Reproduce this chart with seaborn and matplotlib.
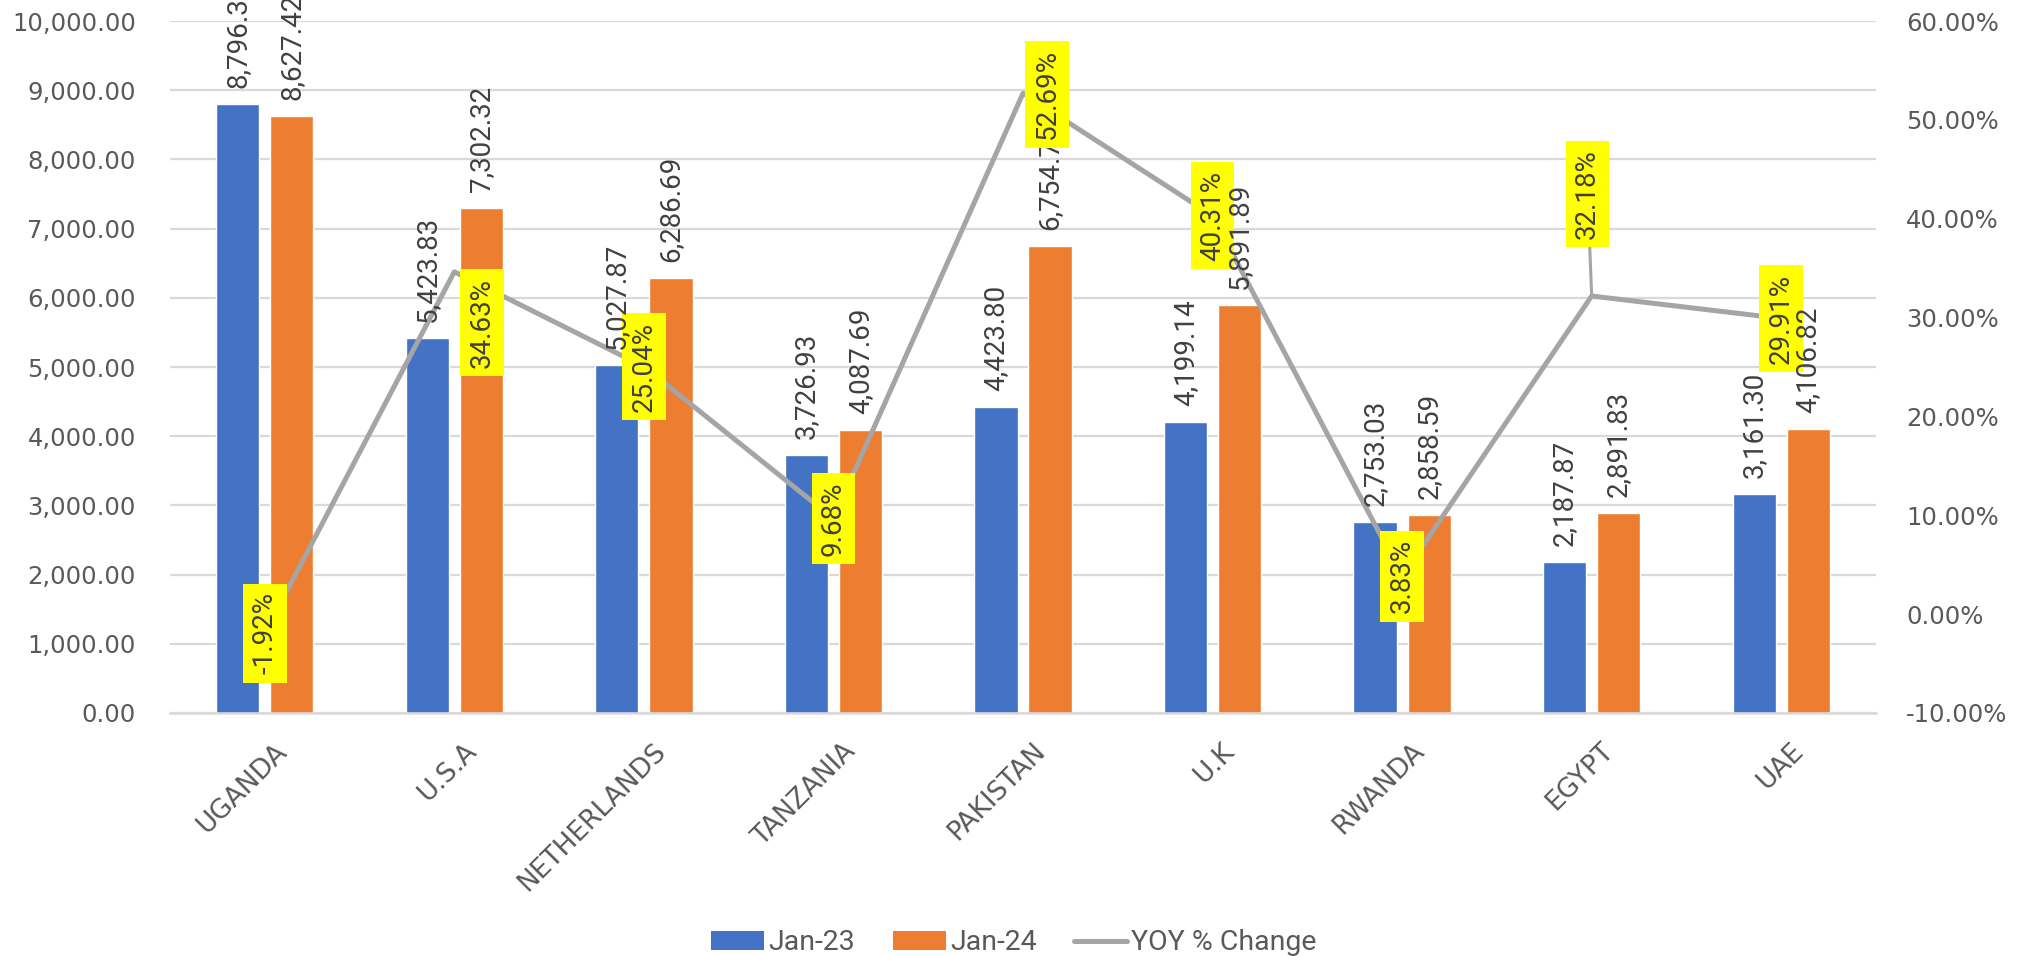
import numpy as np
import pandas as pd
import matplotlib
matplotlib.use("Agg")
import matplotlib.pyplot as plt
import matplotlib.transforms as mtransforms
from matplotlib.patches import Patch
from matplotlib.lines import Line2D
from matplotlib.ticker import FuncFormatter
import seaborn as sns

# ---- data -------------------------------------------------------------
countries = ["UGANDA", "U.S.A", "NETHERLANDS", "TANZANIA", "PAKISTAN",
             "U.K", "RWANDA", "EGYPT", "UAE"]
jan_23 = [8796.33, 5423.83, 5027.87, 3726.93, 4423.80, 4199.14, 2753.03, 2187.87, 3161.30]
jan_24 = [8627.42, 7302.32, 6286.69, 4087.69, 6754.70, 5891.89, 2858.59, 2891.83, 4106.82]
yoy_pct = [-1.92, 34.63, 25.04, 9.68, 52.69, 40.31, 3.83, 32.18, 29.91]
series_names = ["Jan-23", "Jan-24", "YOY % Change"]
left_ticks = [0, 1000, 2000, 3000, 4000, 5000, 6000, 7000, 8000, 9000, 10000]
right_ticks = [-10, 0, 10, 20, 30, 40, 50, 60]

# ---- layout of the % labels (pixel offsets from their point) -----------
pct_label_offsets = [(0, 0), (28, -51), (0, 0), (0, 0), (24, -1),
                     (0, 0), (0, 0), (-4, 102), (0, 0)]
pct_label_leader = [False, False, False, False, False, False, False, True, False]
# value labels that sit underneath a yellow % box
value_label_below_box = [False, False, False, False, True, False, False, False, False]

BLUE = "#4472C4"
ORANGE = "#ED7D31"
GRAY = "#A5A5A5"
GRID = "#D9D9D9"
AXIS_TEXT = "#595959"
LABEL_TEXT = "#404040"
YELLOW = "#FFFF00"

sns.set_theme(style="white")
plt.rcParams["font.family"] = ["DejaVu Sans"]

W, H, DPI = 2020, 956, 100
fig = plt.figure(figsize=(W / DPI, H / DPI), dpi=DPI)
ax = fig.add_axes([170 / W, 1 - 713 / H, (1876 - 170) / W, (713 - 21) / H])

df = pd.DataFrame({
    "country": countries * 2,
    "value": jan_23 + jan_24,
    "period": [series_names[0]] * len(countries) + [series_names[1]] * len(countries),
})

sns.barplot(data=df, x="country", y="value", hue="period", order=countries,
            hue_order=series_names[:2], palette=[BLUE, ORANGE], saturation=1,
            width=0.57, gap=0.2, errorbar=None, legend=False, ax=ax, zorder=2)

ax.set_xlim(-0.5, len(countries) - 0.5)
ax.set_ylim(left_ticks[0], left_ticks[-1])
ax.set_yticks(left_ticks)
ax.yaxis.set_major_formatter(FuncFormatter(lambda v, p: f"{v:,.2f}"))
ax.yaxis.grid(True, color=GRID, lw=1.6)
ax.xaxis.grid(False)
ax.set_axisbelow(True)
for side in ["top", "right", "left"]:
    ax.spines[side].set_visible(False)
ax.spines["bottom"].set_color(GRID)
ax.spines["bottom"].set_linewidth(1.8)
ax.set_xlabel("")
ax.set_ylabel("")
ax.tick_params(axis="y", length=0, pad=24.5, labelsize=17.5, labelcolor=AXIS_TEXT)
ax.tick_params(axis="x", length=0, pad=18, labelsize=19, labelcolor=AXIS_TEXT)
ax.set_xticks(range(len(countries)))
ax.set_xticklabels(countries, rotation=45, ha="right", rotation_mode="anchor")
shift = mtransforms.ScaledTranslation(9 / DPI, 0, fig.dpi_scale_trans)
for lab in ax.get_xticklabels():
    lab.set_transform(lab.get_transform() + shift)

# ---- YOY line on the secondary axis -----------------------------------
ax2 = ax.twinx()
positions = np.arange(len(countries))
sns.lineplot(x=positions, y=yoy_pct, color=GRAY, lw=3.6, sort=False, ax=ax2,
             zorder=2)
ax2.set_xlim(-0.5, len(countries) - 0.5)
ax2.set_ylim(right_ticks[0], right_ticks[-1])
ax2.set_yticks(right_ticks)
ax2.yaxis.set_major_formatter(FuncFormatter(lambda v, p: f"{v:.2f}%"))
ax2.grid(False)
for side in ["top", "right", "left", "bottom"]:
    ax2.spines[side].set_visible(False)
ax2.set_ylabel("")
ax2.tick_params(axis="y", length=0, pad=21.6, labelsize=17.5, labelcolor=AXIS_TEXT)

# percentage labels in yellow boxes
for i, v in enumerate(yoy_pct):
    dx, dy = pct_label_offsets[i]
    arrow = None
    if pct_label_leader[i]:
        arrow = dict(arrowstyle="-", color=GRAY, lw=2.2, shrinkA=0, shrinkB=0)
    ax2.annotate(f"{v:.2f}%", xy=(i, v), xytext=(dx, dy),
                 textcoords="offset pixels", rotation=90, ha="center", va="center",
                 fontsize=20, family=["Roboto", "DejaVu Sans"], color=LABEL_TEXT,
                 bbox=dict(boxstyle="square,pad=0.3", fc=YELLOW, ec="none"),
                 arrowprops=arrow, zorder=3)

# value labels above each bar
for container, values in zip(ax.containers, [jan_23, jan_24]):
    for i, (bar, v) in enumerate(zip(container, values)):
        z = 2.5 if value_label_below_box[i] else 4
        ax2.annotate(f"{v:,.2f}",
                     xy=(bar.get_x() + bar.get_width() / 2, bar.get_height()),
                     xycoords=ax.transData, xytext=(0, 16), textcoords="offset pixels",
                     rotation=90, ha="center", va="bottom", fontsize=20,
                     family=["Roboto", "DejaVu Sans"], color=LABEL_TEXT,
                     annotation_clip=False, zorder=z)

# ---- legend -----------------------------------------------------------
handles = [Patch(facecolor=BLUE, edgecolor="none"),
           Patch(facecolor=ORANGE, edgecolor="none"),
           Line2D([], [], color=GRAY, lw=3.6)]
fig.legend(handles, series_names, loc="center", bbox_to_anchor=(0.502, 0.0136),
           ncol=3, frameon=False, borderpad=0, borderaxespad=0,
           prop={"family": ["Roboto", "DejaVu Sans"], "size": 20.5},
           labelcolor=AXIS_TEXT, handlelength=1.85, handleheight=0.66,
           handletextpad=0.15, columnspacing=1.33)

fig.savefig("out.png", dpi=DPI)
